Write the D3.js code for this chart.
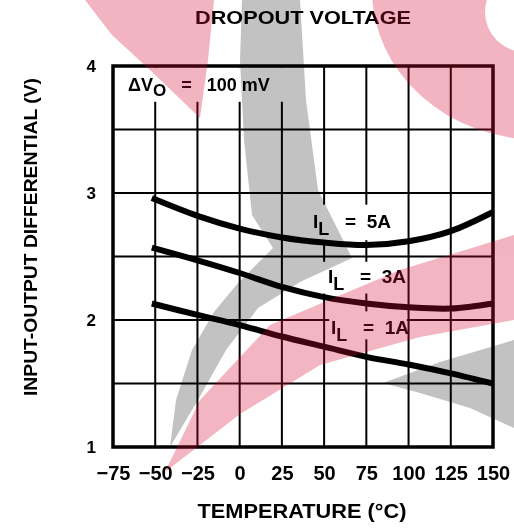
<!DOCTYPE html>
<html><head><meta charset="utf-8">
<script src="https://cdn.jsdelivr.net/npm/d3@7"></script>
<style>html,body{margin:0;padding:0;background:#fff}svg{display:block}</style>
</head><body>
<svg id="chart" width="514" height="529"></svg>
<script>
// ---- data ----
const temps   = [-52, -25, 0, 25, 50, 75, 100, 125, 150];
const il5A    = [2.96, 2.82, 2.72, 2.65, 2.61, 2.59, 2.62, 2.70, 2.85];
const il3A    = [2.57, 2.47, 2.37, 2.26, 2.18, 2.13, 2.10, 2.09, 2.13];
const il1A    = [2.13, 2.04, 1.96, 1.87, 1.79, 1.71, 1.65, 1.58, 1.50];
const xTicks  = [-75, -50, -25, 0, 25, 50, 75, 100, 125, 150];
const yTicks  = [1, 2, 3, 4];
const yGrid   = [1, 1.5, 2, 2.5, 3, 3.5, 4];
const seriesLabels = ["5A", "3A", "1A"];

const svg = d3.select("#chart");
const x = d3.scaleLinear().domain([-75, 150]).range([113, 493]);
const y = d3.scaleLinear().domain([1, 4]).range([447, 66]);
const font = "'Liberation Sans', Arial, Helvetica, sans-serif";

svg.append("rect").attr("width", 514).attr("height", 529).attr("fill", "#fff");

// grid
const g = svg.append("g");
g.selectAll(".vg").data(xTicks).enter().append("line")
  .attr("x1", d => x(d)).attr("x2", d => x(d)).attr("y1", y(4)).attr("y2", y(1))
  .attr("stroke", "#000").attr("stroke-width", 2);
g.selectAll(".hg").data(yGrid).enter().append("line")
  .attr("x1", x(-75)).attr("x2", x(150)).attr("y1", d => y(d)).attr("y2", d => y(d))
  .attr("stroke", "#000").attr("stroke-width", 2);

// white boxes behind annotations
const boxes = [
  {x0: -75, x1: 27, y0: 4, y1: 3.73},
  {x0: 36, x1: 92, y0: 2.92, y1: 2.64},
  {x0: 45, x1: 99, y0: 2.47, y1: 2.22},
  {x0: 53, x1: 99, y0: 2.08, y1: 1.86}
];
g.selectAll(".bx").data(boxes).enter().append("rect")
  .attr("x", d => x(d.x0)).attr("y", d => y(d.y0) + 1.5)
  .attr("width", d => x(d.x1) - x(d.x0)).attr("height", d => y(d.y1) - y(d.y0))
  .attr("fill", "#fff");

// curves
const line = d3.line().x((d, i) => x(temps[i])).y(d => y(d)).curve(d3.curveCatmullRom.alpha(0.5));
[il5A, il3A, il1A].forEach(s => {
  g.append("path").attr("d", line(s)).attr("fill", "none")
    .attr("stroke", "#000").attr("stroke-width", 6).attr("stroke-linecap", "butt");
});

// border
g.append("rect").attr("x", x(-75)).attr("y", y(4)).attr("width", x(150) - x(-75)).attr("height", y(1) - y(4))
  .attr("fill", "none").attr("stroke", "#000").attr("stroke-width", 3.5);

// axes tick labels
const xa = svg.append("g").attr("transform", `translate(0,${y(1)})`)
  .call(d3.axisBottom(x).tickValues(xTicks).tickSize(0).tickPadding(19)
    .tickFormat(d => d < 0 ? "\u2212" + Math.abs(d) : String(d)));
xa.select(".domain").remove();
xa.selectAll("text").attr("font-family", font).attr("font-weight", "bold").attr("font-size", 20).attr("fill", "#000");

const ya = svg.append("g").attr("transform", `translate(${x(-75)},0)`)
  .call(d3.axisLeft(y).tickValues(yTicks).tickSize(0).tickPadding(17).tickFormat(d3.format("d")));
ya.select(".domain").remove();
ya.selectAll("text").attr("font-family", font).attr("font-weight", "bold").attr("font-size", 17).attr("fill", "#000");

// titles
svg.append("text").attr("x", 303).attr("y", 24).attr("text-anchor", "middle")
  .attr("font-family", font).attr("font-weight", "bold").attr("font-size", 19)
  .attr("textLength", 216).attr("lengthAdjust", "spacingAndGlyphs").text("DROPOUT VOLTAGE");
svg.append("text").attr("x", 302).attr("y", 518).attr("text-anchor", "middle")
  .attr("font-family", font).attr("font-weight", "bold").attr("font-size", 20)
  .attr("textLength", 209).attr("lengthAdjust", "spacingAndGlyphs").text("TEMPERATURE (\u00B0C)");
svg.append("text").attr("transform", "translate(37,237) rotate(-90)").attr("text-anchor", "middle")
  .attr("font-family", font).attr("font-weight", "bold").attr("font-size", 18)
  .attr("textLength", 318).attr("lengthAdjust", "spacingAndGlyphs").text("INPUT-OUTPUT DIFFERENTIAL (V)");

// ΔVo annotation
const dv = svg.append("text").attr("x", 128).attr("y", 91)
  .attr("font-family", font).attr("font-weight", "bold").attr("font-size", 18).attr("fill", "#000");
dv.append("tspan").text("\u0394V");
dv.append("tspan").attr("dy", 5).attr("font-size", 17).text("O");
dv.append("tspan").attr("dy", -5).text("\u00A0\u00A0\u00A0=\u00A0\u00A0\u00A0100 mV");

// series labels
const labelPos = [{x: 313, y: 228}, {x: 328, y: 283}, {x: 331, y: 334}];
seriesLabels.forEach((lab, i) => {
  const t = svg.append("text").attr("x", labelPos[i].x).attr("y", labelPos[i].y)
    .attr("font-family", font).attr("font-weight", "bold").attr("font-size", 19).attr("fill", "#000");
  t.append("tspan").text("I");
  t.append("tspan").attr("dy", 7).attr("font-size", 18).text("L");
  t.append("tspan").attr("dy", -7).text("\u00A0\u00A0\u00A0=\u00A0\u00A0" + lab);
});

// ---- background watermark (decoration) ----
const wm = svg.append("g").style("pointer-events", "none");
const pinkShapes = [
  [[85,0],[214,0],[208,60],[200,118],[150,70],[112,35]],
  [[165,472],[200,400],[270,325],[400,270],[514,235],[514,320],[420,337],[320,365],[240,414]]
];
const grayShapes = [
  [[242,0],[300,0],[306,100],[318,190],[352,258],[300,282],[258,308],[226,350],[198,400],[170,447],[176,400],[192,350],[214,312],[238,283],[273,248],[252,215],[244,140],[240,60]],
  [[383,383],[440,362],[514,340],[514,428],[470,408],[420,393]]
];
const wmGray = wm.append("g").style("mix-blend-mode", "multiply");
grayShapes.forEach(p => wmGray.append("path").attr("d", d3.line().curve(d3.curveLinearClosed)(p)).attr("fill", "#c2c2c2"));
const wmPink = wm.append("g").attr("opacity", 0.3);
pinkShapes.forEach(p => wmPink.append("path").attr("d", d3.line().curve(d3.curveLinearClosed)(p)).attr("fill", "rgb(215,10,50)"));
// top-right claw
wmPink.append("path").attr("fill-rule", "evenodd").attr("fill", "rgb(215,10,50)")
  .attr("d", "M372,-10 A168,150 0 1,0 708,-10 A168,150 0 1,0 372,-10 Z M485,12 A40,40 0 1,0 565,12 A40,40 0 1,0 485,12 Z");
</script>
</body></html>
